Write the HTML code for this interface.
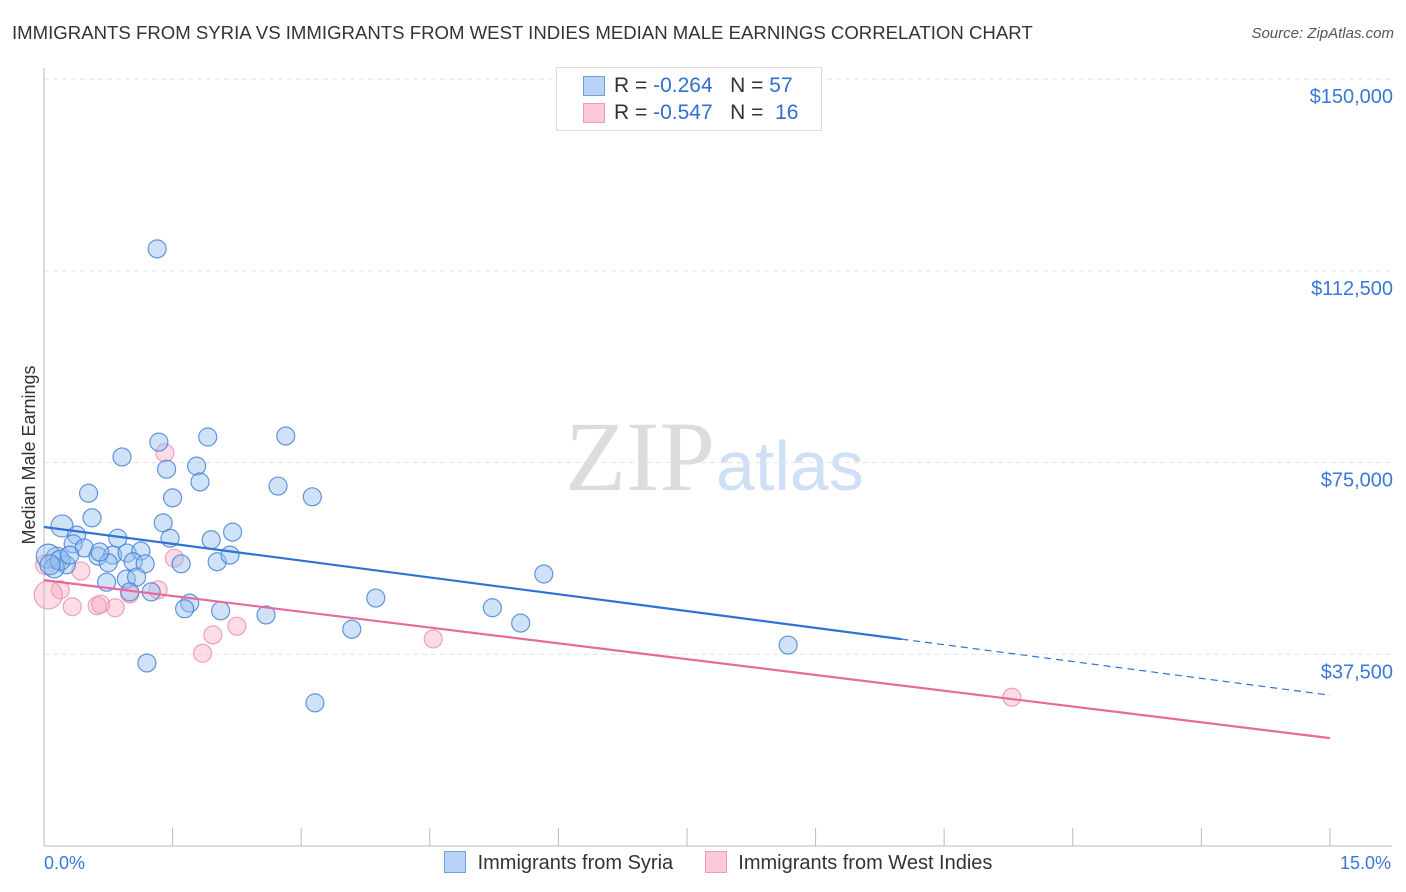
<!DOCTYPE html>
<html><head><meta charset="utf-8"><style>
body{margin:0;background:#fff;font-family:"Liberation Sans",sans-serif;}
#wrap{position:relative;width:1406px;height:892px;overflow:hidden;}
.t{position:absolute;white-space:nowrap;}
</style></head><body>
<div id="wrap">
<div class="t" style="left:12px;top:22px;font-size:18.6px;color:#333;">IMMIGRANTS FROM SYRIA VS IMMIGRANTS FROM WEST INDIES MEDIAN MALE EARNINGS CORRELATION CHART</div>
<div class="t" style="right:12px;top:25px;font-size:15px;color:#555;font-style:italic;">Source: ZipAtlas.com</div>
<svg id="plot" width="1406" height="892" style="position:absolute;left:0;top:0">
<text x="715" y="490" font-size="100" fill="#dcdcdc" font-family="Liberation Serif" text-anchor="end">ZIP</text>
<text x="716" y="490" font-size="70" fill="#cfdff4" font-family="Liberation Sans">atlas</text>
<text x="0" y="0" transform="translate(35,455) rotate(-90)" text-anchor="middle" font-size="18" fill="#333" font-family="Liberation Sans">Median Male Earnings</text>
</svg>
<div style="position:absolute;left:556px;top:67px;width:264px;height:62px;border:1px solid #ddd;background:#fff;font-size:21px;">
 <div style="position:absolute;left:26px;top:8px;width:20px;height:18px;background:#b8d3f5;border:1px solid #6e9fe0;"></div>
 <div class="t" style="left:57px;top:6px;color:#333;">R = <span style="color:#2f6fd0">-0.264</span>&nbsp;&nbsp;&nbsp;N = <span style="color:#2f6fd0">57</span></div>
 <div style="position:absolute;left:26px;top:35px;width:20px;height:18px;background:#fbc9d8;border:1px solid #ee9cb6;"></div>
 <div class="t" style="left:57px;top:33px;color:#333;">R = <span style="color:#2f6fd0">-0.547</span>&nbsp;&nbsp;&nbsp;N = &nbsp;<span style="color:#2f6fd0">16</span></div>
</div>
<div style="position:absolute;left:444px;top:851px;font-size:20px;color:#333;">
 <span style="display:inline-block;width:20px;height:20px;background:#b8d3f5;border:1px solid #6e9fe0;vertical-align:-4px;"></span>
 <span style="margin-left:6px">Immigrants from Syria</span>
 <span style="display:inline-block;width:20px;height:20px;background:#fbc9d8;border:1px solid #ee9cb6;vertical-align:-4px;margin-left:26px;"></span>
 <span style="margin-left:6px">Immigrants from West Indies</span>
</div>
<div class="t" style="left:44px;top:853px;font-size:18px;color:#3a78d4;">0.0%</div>
<div class="t" style="left:1340px;top:853px;font-size:18px;color:#3a78d4;">15.0%</div>
</div>
<script>
const yTicks=[37500,75000,112500,150000];
const yTickLabels=["$37,500","$75,000","$112,500","$150,000"];
const syriaX=[1.32,1.34,1.91,2.82,0.91,1.43,1.78,1.82,2.73,3.13,0.52,1.50,0.56,1.39,2.20,0.21,0.86,1.47,1.95,0.38,0.34,0.47,0.15,0.05,0.26,0.12,0.63,0.80,0.97,1.13,0.75,1.04,1.18,0.96,1.08,0.73,1.60,2.02,2.17,1.25,1.00,1.70,1.64,2.06,2.59,3.87,3.59,5.23,5.56,5.83,1.20,3.16,8.68,0.19,0.65,0.07,0.30];
const syriaY=[116800,79000,80000,80200,76100,73700,74300,71200,70400,68300,69000,68100,64200,63200,61400,62600,60200,60200,59900,60800,59100,58300,56300,56700,55000,54400,56700,56900,57300,57700,55400,55600,55200,52200,52600,51600,55200,55600,56900,49700,49700,47500,46400,46000,45200,48500,42400,46600,43600,53200,35800,28000,39300,55900,57500,55000,56900];
const syriaR=[9,9,9,9,9,9,9,9,9,9,9,9,9,9,9,11,9,9,9,9,9,9,11,12,9,10,9,9,9,9,9,9,9,9,9,9,9,9,9,9,9,9,9,9,9,9,9,9,9,9,9,9,9,10,9,10,9];
const wiX=[1.41,1.52,0.43,0.02,0.19,0.33,0.62,0.83,0.66,1.00,1.33,1.97,2.25,1.85,4.54,11.29,0.05];
const wiY=[76900,56300,53800,55000,50100,46800,47000,46600,47300,49300,50100,41300,43000,37700,40500,29100,49100];
const wiR=[9,9,9,10,9,9,9,9,9,9,9,9,9,9,9,9,14];
const syriaTrend=[62400,29500];const wiTrend=[52000,21100];const trendSolidEnd=[10.0,15];
const X=v=>44+v*85.73, Y=v=>846-v/195.6;
const svg=document.getElementById('plot');const NS='http://www.w3.org/2000/svg';
function mk(t,a){const e=document.createElementNS(NS,t);for(const k in a)e.setAttribute(k,a[k]);svg.appendChild(e);return e;}
yTicks.forEach((v,i)=>{const g=mk('line',{x1:44,x2:1392,y1:Y(v),y2:Y(v),stroke:'#e3e3e3','stroke-dasharray':'5,4'});


const t=mk('text',{x:1393,y:Y(v)+24,'text-anchor':'end','font-size':20,fill:'#3a78d4','font-family':'Liberation Sans'});t.textContent=yTickLabels[i];

});
const ax=mk('line',{x1:44,x2:44,y1:68,y2:846,stroke:'#bbb'});


const bx=mk('line',{x1:44,x2:1392,y1:846,y2:846,stroke:'#bbb'});


for(let i=0;i<=10;i++){const tk=mk('line',{x1:X(i*1.5),x2:X(i*1.5),y1:828,y2:846,stroke:'#bbb'});

}
function pts(xs,ys,rs,fill,stroke,name){xs.forEach((x,i)=>{const c=mk('circle',{cx:X(x),cy:Y(ys[i]),r:rs[i],fill:fill,stroke:stroke,'stroke-width':1.2});

});}
pts(wiX,wiY,wiR,'rgba(246,168,195,0.4)','rgba(236,140,172,0.8)','point-west-indies');
pts(syriaX,syriaY,syriaR,'rgba(150,190,240,0.45)','rgba(60,125,215,0.8)','point-syria');
const lerp=(a,b,t)=>a+(b-a)*t;const fr=trendSolidEnd[0]/15;
const l1=mk('line',{x1:X(0),y1:Y(syriaTrend[0]),x2:X(trendSolidEnd[0]),y2:Y(lerp(syriaTrend[0],syriaTrend[1],fr)),stroke:'#2f72d6','stroke-width':2.2});


const l2=mk('line',{x1:X(trendSolidEnd[0]),y1:Y(lerp(syriaTrend[0],syriaTrend[1],fr)),x2:X(15),y2:Y(syriaTrend[1]),stroke:'#2f72d6','stroke-width':1.2,'stroke-dasharray':'7,5'});


const l3=mk('line',{x1:X(0),y1:Y(wiTrend[0]),x2:X(15),y2:Y(wiTrend[1]),stroke:'#e8699a','stroke-width':2.2});


</script>
</body></html>
